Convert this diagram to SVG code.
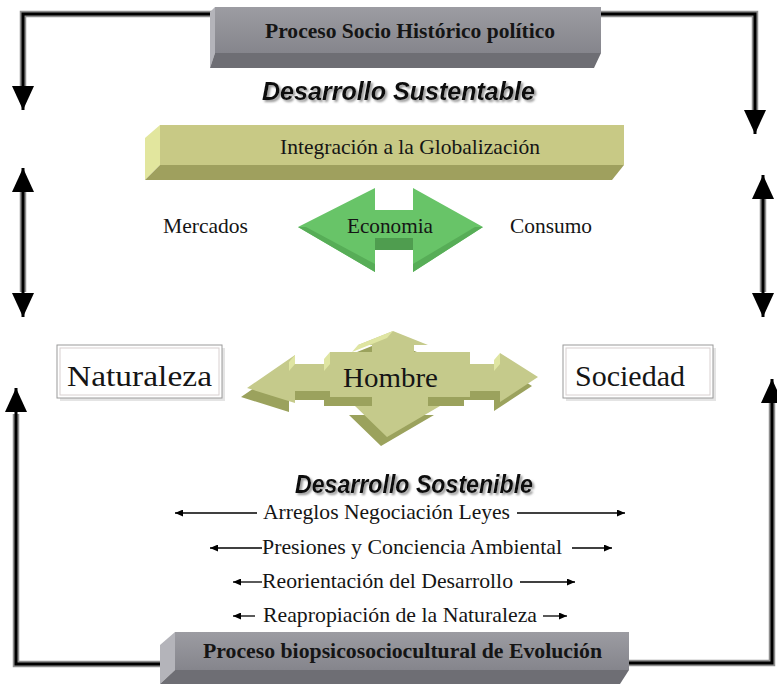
<svg xmlns="http://www.w3.org/2000/svg" width="777" height="684" viewBox="0 0 777 684">
<defs>
<style>
.serif{font-family:"Liberation Serif","Times New Roman",serif;fill:#151515}
.bold{font-weight:bold}
.title{font-family:"Liberation Sans",Arial,sans-serif;font-weight:bold;font-style:italic;fill:#111;filter:url(#ds)}
.halo{fill:none;stroke:#8e8e8e;stroke-width:6.5}
.wire{fill:none;stroke:#000;stroke-width:3}
.thin{fill:none;stroke:#000;stroke-width:1.3}
.lbl{fill:#fff;stroke:#9a9a9a;stroke-width:1}
</style>
<filter id="ds" x="-5%" y="-20%" width="110%" height="150%">
<feDropShadow dx="2" dy="2" stdDeviation="0.8" flood-color="#8a8a8a" flood-opacity="0.9"/>
</filter>
<marker id="big" viewBox="0 0 24 22" markerWidth="24" markerHeight="22" refX="24" refY="11" orient="auto" markerUnits="userSpaceOnUse">
<path d="M0,0 L24,11 L0,22 Z" fill="#000"/>
</marker>
<marker id="sm" viewBox="0 0 8 7" markerWidth="8" markerHeight="7" refX="8" refY="3.5" orient="auto" markerUnits="userSpaceOnUse">
<path d="M0,0 L8,3.5 L0,7 Z" fill="#000"/>
</marker>
<linearGradient id="gFace" x1="0" y1="0" x2="0" y2="1">
<stop offset="0" stop-color="#9c9ca2"/><stop offset="1" stop-color="#85858c"/>
</linearGradient>
</defs>
<rect width="777" height="684" fill="#fff"/>

<g id="connectors">
<path class="halo" d="M212,14 L23,14 L23,88"/>
<path class="wire" d="M212,14 L23,14 L23,110" marker-end="url(#big)"/>
<path class="halo" d="M598,14 L755,14 L755,112"/>
<path class="wire" d="M598,14 L755,14 L755,134" marker-end="url(#big)"/>
<path class="halo" d="M23,190 L23,292"/>
<path class="wire" d="M23,240 L23,168" marker-end="url(#big)"/>
<path class="wire" d="M23,240 L23,317" marker-end="url(#big)"/>
<path class="halo" d="M763,198 L763,292"/>
<path class="wire" d="M763,240 L763,175" marker-end="url(#big)"/>
<path class="wire" d="M763,240 L763,317" marker-end="url(#big)"/>
<path class="halo" d="M162,664 L16,664 L16,414"/>
<path class="wire" d="M162,664 L16,664 L16,388" marker-end="url(#big)"/>
<path class="halo" d="M626,663 L772,663 L772,402"/>
<path class="wire" d="M626,663 L772,663 L772,379" marker-end="url(#big)"/>
<path class="thin" d="M257,513 L175,513" marker-end="url(#sm)"/>
<path class="thin" d="M517,513 L625,513" marker-end="url(#sm)"/>
<path class="thin" d="M262,548 L210,548" marker-end="url(#sm)"/>
<path class="thin" d="M572,548 L612,548" marker-end="url(#sm)"/>
<path class="thin" d="M262,582 L233,582" marker-end="url(#sm)"/>
<path class="thin" d="M520,582 L575,582" marker-end="url(#sm)"/>
<path class="thin" d="M255,616 L233,616" marker-end="url(#sm)"/>
<path class="thin" d="M543,616 L567,616" marker-end="url(#sm)"/>
</g>

<g id="proceso-socio">
<polygon points="215,7 210,12 210,68 215,53" fill="#b4b4ba"/>
<rect x="215" y="7" width="386" height="46" fill="url(#gFace)"/>
<polygon points="215,53 601,53 594,68 210,68" fill="#6e6e74"/>
<text class="serif bold" x="265" y="38" font-size="20" textLength="290" lengthAdjust="spacingAndGlyphs">Proceso Socio Histórico político</text>
</g>

<g id="desarrollo-sustentable">
<text class="title" x="262" y="100" font-size="25" textLength="273" lengthAdjust="spacingAndGlyphs">Desarrollo Sustentable</text>
</g>

<g id="integracion">
<polygon points="160,125 145,138 145,180 160,165" fill="#e2e69e"/>
<rect x="160" y="125" width="464" height="40" fill="#c8c985"/>
<polygon points="160,165 624,165 612,180 145,180" fill="#9fa05e"/>
<text class="serif" x="280" y="154" font-size="21" textLength="260" lengthAdjust="spacingAndGlyphs">Integración a la Globalización</text>
</g>

<g id="mercados">
<text class="serif" x="163" y="233" font-size="21" textLength="85" lengthAdjust="spacingAndGlyphs">Mercados</text>
</g>

<g id="economia">
<polygon points="298,227 375,188 375,210 413,210 413,188 483,227 413,272 413,250 375,250 375,272" fill="#68c468"/>
<rect x="375" y="238" width="38" height="12" fill="#4f9d4f"/>
<polygon points="298,227 375,272 375,264 306,227" fill="#57ad57"/>
<polygon points="483,227 413,272 413,264 475,227" fill="#57ad57"/>
<text class="serif" x="347" y="233" font-size="21" textLength="86" lengthAdjust="spacingAndGlyphs">Economia</text>
</g>

<g id="consumo">
<text class="serif" x="510" y="233" font-size="21" textLength="82" lengthAdjust="spacingAndGlyphs">Consumo</text>
</g>

<g id="naturaleza">
<rect x="60" y="348" width="165" height="53" fill="#e4e4e4"/>
<rect class="lbl" x="57" y="345" width="165" height="53"/>
<rect x="60" y="348" width="159" height="47" fill="none" stroke="#d8d0d0" stroke-width="1"/>
<text class="serif" x="67" y="386" font-size="29" textLength="145" lengthAdjust="spacingAndGlyphs">Naturaleza</text>
</g>

<g id="hombre">
<path transform="translate(-6,9)" fill="#9ba25d" d="M330,352 L372,352 L372,345 L358,345 L393,331 L428,345 L414,345 L414,352 L470,352 L470,364 L500,364 L500,353 L538,377 L500,402 L500,391 L470,391 L470,397 L428,397 L428,406 L440,406 L387,437 L355,406 L372,406 L372,397 L330,397 L330,391 L295,391 L295,403 L247,388 L295,355 L295,364 L330,364 Z"/>
<path fill="#c5ca8b" d="M330,352 L372,352 L372,345 L358,345 L393,331 L428,345 L414,345 L414,352 L470,352 L470,364 L500,364 L500,353 L538,377 L500,402 L500,391 L470,391 L470,397 L428,397 L428,406 L440,406 L387,437 L355,406 L372,406 L372,397 L330,397 L330,391 L295,391 L295,403 L247,388 L295,355 L295,364 L330,364 Z"/>
<polygon points="295,355 289,362 289,371 295,364" fill="#dfe5a2"/>
<polygon points="330,352 324,359 324,371 330,364" fill="#dfe5a2"/>
<polygon points="358,345 352,352 387,338 393,331" fill="#dfe5a2"/>
<polygon points="500,353 494,360 494,371 500,364" fill="#dfe5a2"/>
<text class="serif" x="343" y="387" font-size="28" textLength="95" lengthAdjust="spacingAndGlyphs">Hombre</text>
</g>

<g id="sociedad">
<rect x="566" y="348" width="150" height="53" fill="#e4e4e4"/>
<rect class="lbl" x="563" y="345" width="150" height="53"/>
<rect x="566" y="348" width="144" height="47" fill="none" stroke="#d8d0d0" stroke-width="1"/>
<text class="serif" x="575" y="386" font-size="29" textLength="110" lengthAdjust="spacingAndGlyphs">Sociedad</text>
</g>

<g id="desarrollo-sostenible">
<text class="title" x="295" y="493" font-size="25" textLength="238" lengthAdjust="spacingAndGlyphs">Desarrollo Sostenible</text>
</g>

<g id="arreglos">
<text class="serif" x="263" y="519" font-size="21" textLength="247" lengthAdjust="spacingAndGlyphs">Arreglos Negociación Leyes</text>
</g>
<g id="presiones">
<text class="serif" x="262" y="554" font-size="21" textLength="300" lengthAdjust="spacingAndGlyphs">Presiones y Conciencia Ambiental</text>
</g>
<g id="reorientacion">
<text class="serif" x="262" y="588" font-size="21" textLength="251" lengthAdjust="spacingAndGlyphs">Reorientación del Desarrollo</text>
</g>
<g id="reapropiacion">
<text class="serif" x="263" y="622" font-size="21" textLength="274" lengthAdjust="spacingAndGlyphs">Reapropiación de la Naturaleza</text>
</g>

<g id="proceso-bio">
<polygon points="175,632 160,645 160,684 175,670" fill="#b4b4ba"/>
<rect x="175" y="632" width="454" height="38" fill="url(#gFace)"/>
<polygon points="175,670 629,670 620,684 160,684" fill="#6e6e74"/>
<text class="serif bold" x="203" y="658" font-size="21" textLength="399" lengthAdjust="spacingAndGlyphs">Proceso biopsicosociocultural de Evolución</text>
</g>
</svg>
